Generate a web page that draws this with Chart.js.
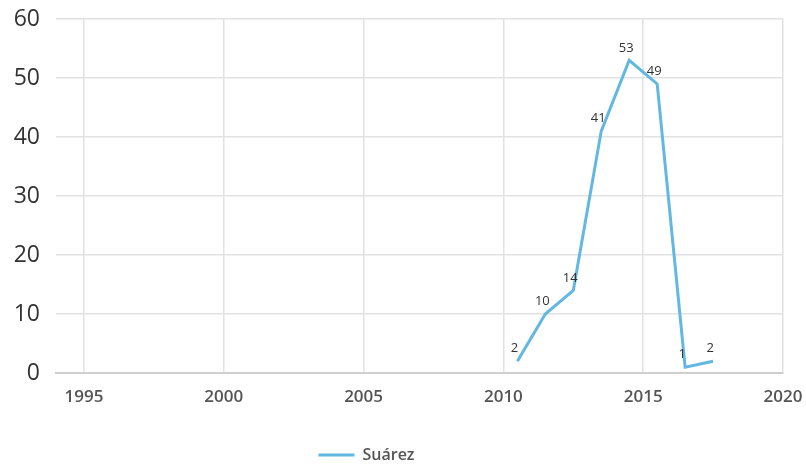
<!DOCTYPE html>
<html>
<head>
<meta charset="utf-8">
<script src="https://cdn.jsdelivr.net/npm/chart.js@4"></script>
<style>
  html, body { margin: 0; padding: 0; background: #fff; }
  #wrap { width: 806px; height: 466px; }
</style>
</head>
<body>
<div id="wrap"><canvas id="c" width="806" height="466"></canvas></div>
<script>
// data
var years = [2010.5, 2011.5, 2012.5, 2013.5, 2014.5, 2015.5, 2016.5, 2017.5];
var goals = [2, 10, 14, 41, 53, 49, 1, 2];
var seriesName = 'Suárez';

var blue = '#62b8e0';

// point labels
var pointLabels = {
  id: 'pointLabels',
  afterDatasetsDraw: function(chart) {
    var ctx = chart.ctx;
    var meta = chart.getDatasetMeta(0);
    ctx.save();
    ctx.font = '13px "Open Sans"';
    ctx.fillStyle = '#333';
    ctx.textAlign = 'center';
    ctx.textBaseline = 'bottom';
    meta.data.forEach(function(pt, i) {
      ctx.fillText(String(goals[i]), pt.x - 3, pt.y - 6);
    });
    ctx.restore();
  }
};

// nudge legend like the original
var legendShift = {
  id: 'legendShift',
  afterLayout: function(chart) {
    var lg = chart.legend;
    lg.left -= 25;
    lg.right -= 25;
    lg.top += 7;
    lg.bottom += 7;
  }
};

var pts = years.map(function(y, i) { return {x: y, y: goals[i]}; });

new Chart(document.getElementById('c'), {
  type: 'line',
  data: {
    datasets: [{
      label: seriesName,
      data: pts,
      borderColor: blue,
      backgroundColor: blue,
      borderWidth: 3,
      pointRadius: 0,
      tension: 0
    }]
  },
  options: {
    responsive: false,
    animation: false,
    layout: { padding: { top: 19, right: 23, bottom: 0, left: 0 } },
    plugins: {
      tooltip: { enabled: false },
      legend: {
        position: 'bottom',
        labels: {
          boxWidth: 36,
          boxHeight: 3,
          color: '#555',
          font: { family: 'Open Sans', size: 16, weight: '600' },
          padding: 2,
          generateLabels: function(chart) {
            return [{ text: seriesName, fillStyle: blue, strokeStyle: blue, lineWidth: 0, datasetIndex: 0, fontColor: '#555' }];
          }
        }
      }
    },
    scales: {
      x: {
        type: 'linear',
        min: 1994,
        max: 2020,
        ticks: {
          stepSize: 5,
          includeBounds: false,
          color: '#555',
          font: { family: 'Open Sans', size: 17, weight: '600' },
          padding: 14,
          maxRotation: 0,
          callback: function(v) { return String(v); }
        },
        grid: { color: '#e2e2e2', lineWidth: 1.5, drawTicks: false },
        border: { color: '#cfcfcf', width: 2 },
        afterFit: function(s) { s.height = 65; s.paddingLeft = 0; s.paddingRight = 0; }
      },
      y: {
        min: 0,
        max: 60,
        ticks: {
          stepSize: 10,
          color: '#333',
          font: { family: 'Open Sans', size: 23 },
          padding: 16
        },
        grid: { color: '#e2e2e2', lineWidth: 1.5, drawTicks: false },
        border: { display: false },
        afterFit: function(s) { s.width = 56; s.paddingTop = 0; s.paddingBottom = 0; }
      }
    }
  },
  plugins: [pointLabels, legendShift]
});
</script>
</body>
</html>
